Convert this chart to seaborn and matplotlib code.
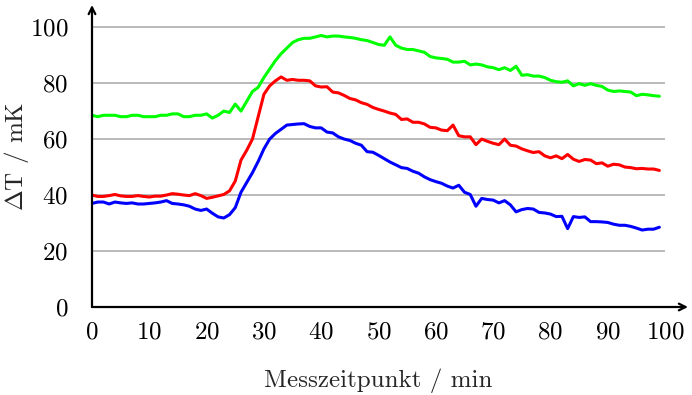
import matplotlib
matplotlib.use("Agg")
import matplotlib.pyplot as plt
import seaborn as sns
import pandas as pd
import numpy as np

# Messzeitpunkte in Minuten
minutes = list(range(100))

# Temperaturdifferenz der drei Messreihen in mK
green_series = [
    68.5, 68.0, 68.5, 68.5, 68.5, 68.0, 68.0, 68.5, 68.5, 68.0,
    68.0, 68.0, 68.5, 68.5, 69.0, 69.0, 68.0, 68.0, 68.5, 68.5,
    69.0, 67.5, 68.5, 70.0, 69.5, 72.5, 70.0, 73.5, 77.0, 78.5,
    82.0, 85.0, 88.0, 90.5, 92.5, 94.5, 95.5, 96.0, 96.0, 96.5,
    97.0, 96.5, 96.8, 96.8, 96.5, 96.3, 96.0, 95.5, 95.2, 94.5,
    93.8, 93.5, 96.5, 93.5, 92.5, 92.0, 92.0, 91.5, 91.0, 89.5,
    89.0, 88.8, 88.5, 87.5, 87.5, 87.8, 86.5, 86.8, 86.5, 85.8,
    85.5, 84.8, 85.5, 84.5, 86.0, 82.8, 83.0, 82.5, 82.5, 82.0,
    81.0, 80.5, 80.3, 80.8, 79.0, 79.8, 79.2, 79.8, 79.2, 78.8,
    77.5, 77.0, 77.2, 77.0, 76.8, 75.5, 76.0, 75.8, 75.5, 75.3,
]
red_series = [
    40.0, 39.5, 39.5, 39.8, 40.2, 39.7, 39.5, 39.5, 39.8, 39.5,
    39.3, 39.6, 39.6, 40.0, 40.5, 40.3, 40.0, 39.8, 40.5, 39.8,
    38.8, 39.2, 39.7, 40.2, 41.5, 45.0, 52.5, 56.0, 60.0, 68.0,
    76.0, 79.0, 80.8, 82.2, 81.0, 81.3, 81.0, 81.0, 80.8, 79.0,
    78.6, 78.7, 76.8, 76.5, 75.6, 74.5, 74.0, 73.0, 72.4, 71.3,
    70.6, 70.0, 69.3, 68.8, 67.0, 67.2, 66.0, 66.0, 65.4, 64.2,
    64.0, 63.2, 63.0, 65.0, 61.2, 60.8, 60.8, 58.0, 60.0, 59.2,
    58.5, 58.0, 60.0, 57.8, 57.5, 56.5, 55.8, 55.2, 55.5, 54.0,
    53.3, 54.0, 53.0, 54.5, 52.8, 52.0, 52.7, 52.5, 51.2, 51.5,
    50.3, 51.0, 50.8, 50.0, 49.8, 49.4, 49.5, 49.3, 49.3, 48.8,
]
blue_series = [
    37.0, 37.5, 37.5, 36.8, 37.5, 37.2, 37.0, 37.2, 36.8, 36.8,
    37.0, 37.2, 37.5, 38.0, 37.0, 36.8, 36.5, 36.0, 35.0, 34.5,
    35.0, 33.5, 32.2, 31.8, 33.0, 35.5, 41.0, 44.5, 48.0, 52.0,
    56.5, 60.0, 62.0, 63.5, 65.0, 65.2, 65.4, 65.5, 64.5, 64.0,
    64.0, 62.5, 62.2, 60.8, 60.0, 59.5, 58.5, 57.8, 55.5, 55.3,
    54.2, 53.0, 51.8, 50.8, 49.8, 49.5, 48.5, 47.8, 46.5, 45.5,
    44.8, 44.2, 43.2, 42.5, 43.5, 41.0, 40.2, 36.0, 38.8, 38.4,
    38.2, 37.2, 38.0, 36.5, 34.0, 34.8, 35.2, 35.0, 33.8, 33.6,
    33.2, 32.3, 32.4, 28.0, 32.3, 32.0, 32.2, 30.5, 30.5, 30.4,
    30.2, 29.6, 29.2, 29.2, 28.8, 28.2, 27.5, 27.8, 27.8, 28.5,
]

x_ticks = list(range(0, 101, 10))
y_ticks = list(range(0, 101, 20))

sns.set_style("white")
plt.rcParams["font.family"] = ["cmr10", "DejaVu Serif"]
plt.rcParams["mathtext.fontset"] = "cm"
plt.rcParams["axes.formatter.use_mathtext"] = True

df = pd.DataFrame({
    "t": minutes * 3,
    "dT": green_series + red_series + blue_series,
    "Reihe": ["gruen"] * 100 + ["rot"] * 100 + ["blau"] * 100,
})

fig = plt.figure(figsize=(6.92, 3.95), dpi=100)
ax = fig.add_axes([92 / 692, 88 / 395, 596 / 692, 302 / 395])

# Hilfslinien nur im Datenbereich
ax.hlines(y_ticks[1:], 0, 100, color="#b4b4b4", lw=1.3, zorder=0)

sns.lineplot(data=df, x="t", y="dT", hue="Reihe",
             palette={"gruen": "#00ff00", "rot": "#ff0000", "blau": "#0000ff"},
             linewidth=2.2, legend=False, ax=ax, zorder=3)

ax.set_xlim(0, 104)
ax.set_ylim(0, 107.9)
ax.set_xticks(x_ticks)
ax.set_yticks(y_ticks)
ax.tick_params(axis="both", direction="out", length=7, width=1.0,
               color="#a0a0a0", labelsize=18, labelcolor="black")
ax.tick_params(axis="y", pad=10)
ax.tick_params(axis="x", pad=3)

for side in ["top", "right", "left", "bottom"]:
    ax.spines[side].set_visible(False)

# Achsen mit Pfeilspitzen
ax.annotate("", xy=(1.0, 0.0), xytext=(0.0, 0.0), xycoords="axes fraction",
            arrowprops=dict(arrowstyle="->", lw=1.6, color="black",
                            shrinkA=0, shrinkB=0, mutation_scale=12),
            annotation_clip=False, zorder=5)
ax.annotate("", xy=(0.0, 1.0), xytext=(0.0, 0.0), xycoords="axes fraction",
            arrowprops=dict(arrowstyle="->", lw=1.6, color="black",
                            shrinkA=0, shrinkB=0, mutation_scale=12),
            annotation_clip=False, zorder=5)

ax.set_xlabel("Messzeitpunkt / min", fontsize=18)
ax.set_ylabel(r"$\Delta$T / mK", fontsize=18)
ax.xaxis.set_label_coords(50 / 104, -0.205)
ax.yaxis.set_label_coords(-0.102, 0.5)

fig.savefig("out.png", dpi=100)
